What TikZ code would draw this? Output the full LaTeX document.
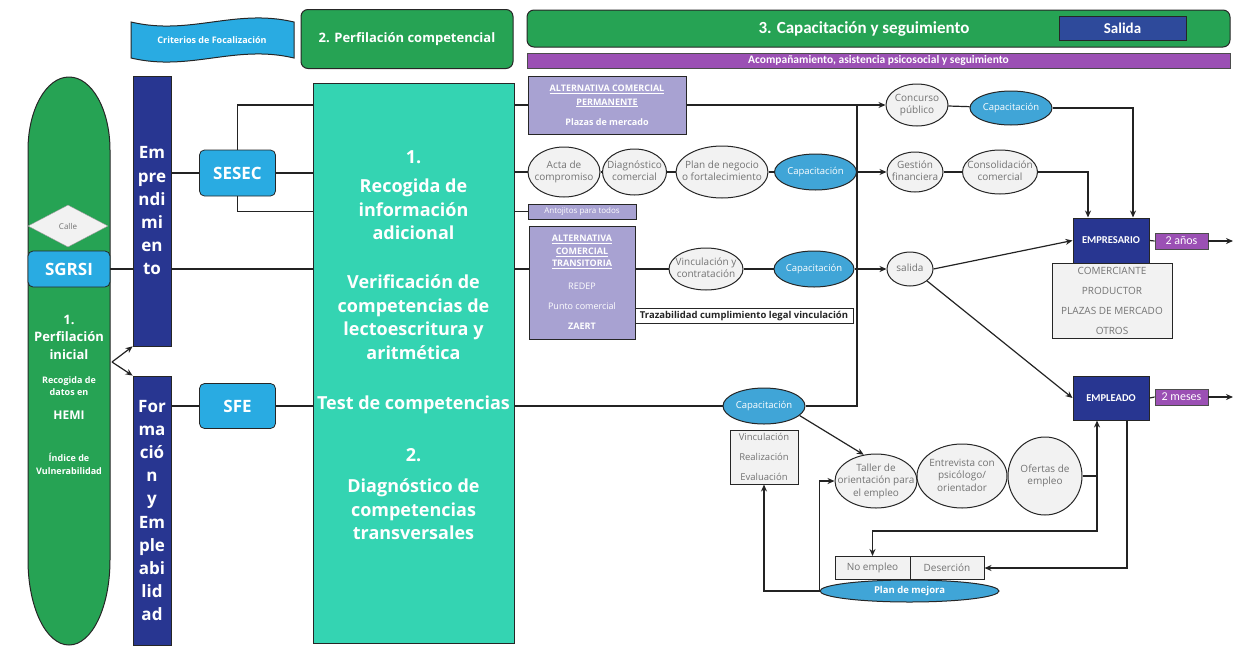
\documentclass[tikz,border=0pt]{standalone}
\usepackage{fontspec}
\setmainfont{Open Sans}
\newfontfamily\carl{Carlito}
\usepackage{tikz}
\usetikzlibrary{shapes, arrows.meta, calc}
\definecolor{verde}{RGB}{38,163,84}
\definecolor{turquesa}{RGB}{52,212,178}
\definecolor{celeste}{RGB}{41,171,226}
\definecolor{marino}{RGB}{40,54,145}
\definecolor{azulsal}{RGB}{46,74,155}
\definecolor{lavanda}{RGB}{168,162,210}
\definecolor{morado}{RGB}{155,80,180}
\definecolor{azulcap}{RGB}{64,165,215}
\definecolor{grisfondo}{RGB}{242,242,242}
\definecolor{gristexto}{RGB}{115,115,115}
\definecolor{trazo}{RGB}{35,35,35}
\tikzstyle{conn} = [draw=trazo, line width=1.2pt]
\tikzstyle{arr} = [conn, -{Stealth[length=7pt, width=6pt]}]
\tikzstyle{barra} = [rectangle, draw=black!85, line width=0.8pt, fill=marino, text=white, font=\bfseries\fontsize{17}{23.2}\selectfont, align=center, inner sep=0pt, minimum width=38pt]
\tikzstyle{servicio} = [rectangle, rounded corners=5pt, draw=black!85, line width=0.8pt, fill=celeste, text=white, font=\bfseries\fontsize{17}{19}\selectfont, inner sep=0pt]
\tikzstyle{titulo} = [rectangle, rounded corners=7pt, draw=black!85, line width=1pt, fill=verde, text=white, inner sep=0pt]
\tikzstyle{ovalo} = [ellipse, draw=black!85, line width=1pt, fill=grisfondo, text=gristexto, font=\fontsize{10}{12.5}\selectfont, inner sep=0pt]
\tikzstyle{ovalcap} = [ellipse, draw=black!85, line width=1pt, fill=azulcap, text=white, font=\fontsize{9.5}{11}\selectfont, inner sep=0pt, minimum width=82pt, minimum height=36pt]
\tikzstyle{alterna} = [rectangle, draw=black!85, line width=1pt, fill=lavanda, text=white, font=\bfseries\fontsize{9}{12.5}\selectfont, align=center, inner sep=0pt]
\tikzstyle{perfil} = [rectangle, draw=black!85, line width=1pt, fill=marino, text=white, font=\carl\bfseries\fontsize{10.5}{12}\selectfont, inner sep=0pt, minimum width=76pt]
\tikzstyle{plazo} = [rectangle, draw=black!70, line width=0.8pt, fill=morado, text=white, font=\carl\fontsize{12}{13}\selectfont, inner sep=0pt, minimum width=53pt, minimum height=16pt]
\tikzstyle{lista} = [rectangle, draw=black!85, line width=1pt, fill=grisfondo, text=gristexto, font=\fontsize{10}{20}\selectfont, align=center, inner sep=0pt]
\tikzstyle{blanco} = [text=white, align=center, inner sep=0pt]
\newcommand{\elltext}[1]{\makebox[0pt]{\smash{\raisebox{-0.25em}{\begin{tabular}{@{}c@{}}#1\end{tabular}}}}}

\begin{document}
\begin{tikzpicture}[x=1pt, y=-1pt]
\useasboundingbox (0,0) rectangle (1234,651);

\draw[fill=celeste, draw=black!85, line width=1pt] (131,22) .. controls (190,36) and (235,8) .. (294,22) -- (294,58) .. controls (235,44) and (190,72) .. (131,58) -- cycle;
\node (crit) [blanco, font=\bfseries\fontsize{9}{10}\selectfont] at (212,40) {Criterios de Focalización};
\node (perf) [titulo, minimum width=212pt, minimum height=59pt, font=\bfseries\fontsize{13}{15}\selectfont] at (407,39) {2. Perfilación competencial};
\node (seg) [titulo, minimum width=703pt, minimum height=37pt] at (878.5,28.5) {};
\node (segtxt) [blanco, font=\carl\bfseries\fontsize{17}{19}\selectfont] at (864,28.5) {3. Capacitación y seguimiento};
\node (sal) [rectangle, draw=black!85, line width=1pt, fill=azulsal, text=white, font=\carl\bfseries\fontsize{15}{17}\selectfont, minimum width=127pt, minimum height=24pt, inner sep=0pt] at (1122.5,28) {Salida};
\node (acomp) [rectangle, draw=black!70, line width=0.8pt, fill=morado, text=white, font=\carl\bfseries\fontsize{11.5}{12}\selectfont, minimum width=703pt, minimum height=15pt, inner sep=0pt] at (878.5,60.5) {Acompañamiento, asistencia psicosocial y seguimiento};

\draw[fill=verde, draw=black!85, line width=1pt] (28,150) .. controls (28,110) and (46,77) .. (69,77) .. controls (92,77) and (110,110) .. (110,150) -- (110,560) .. controls (110,607) and (92,645) .. (69,645) .. controls (46,645) and (28,607) .. (28,560) -- cycle;
\node (calle) [diamond, draw=black!40, fill=grisfondo, text=gristexto, font=\fontsize{8}{9}\selectfont, minimum width=80pt, minimum height=42pt, inner sep=0pt] at (68,226) {Calle};
\node (sgrsi) [servicio, minimum width=82pt, minimum height=36pt] at (69,269) {SGRSI};
\node (ini) [blanco, font=\bfseries\fontsize{13}{17.5}\selectfont] at (69,337) {1.\\Perfilación\\inicial};
\node (datos) [blanco, font=\bfseries\fontsize{9}{12}\selectfont] at (69,386) {Recogida de\\datos en};
\node (hemi) [blanco, font=\bfseries\fontsize{12}{14}\selectfont] at (69,415) {HEMI};
\node (indice) [blanco, font=\bfseries\fontsize{9}{13}\selectfont] at (69,463.5) {Índice de\\Vulnerabilidad};

\node (emp) [barra, minimum height=270pt] at (152,211) {Em\\pre\\ndi\\mi\\en\\to};
\node (form) [barra, minimum height=269pt] at (152,510.5) {For\\ma\\ció\\n\\y\\Em\\ple\\abi\\lid\\ad};
\coordinate (fk) at (112,362);
\draw[arr] (fk) -- (emp.south west);
\draw[arr] (fk) -- (form.north west);

\node (sesec) [servicio, minimum width=76pt, minimum height=46pt] at (237.5,173) {SESEC};
\node (sfe) [servicio, minimum width=76pt, minimum height=45pt] at (237.5,406) {SFE};

\node (teal) [rectangle, draw=black!85, line width=1pt, fill=turquesa, minimum width=201pt, minimum height=560pt] at (413.5,363) {};
\node (t1) [blanco, font=\bfseries\fontsize{18}{23.5}\selectfont] at (413.5,195) {1.\\[6pt]Recogida de\\información\\adicional};
\node (t2) [blanco, font=\bfseries\fontsize{18}{23.5}\selectfont] at (413.5,317) {Verificación de\\competencias de\\lectoescritura y\\aritmética};
\node (t3) [blanco, font=\bfseries\fontsize{18}{23.5}\selectfont] at (413.5,405) {Test de competencias};
\node (t4) [blanco, font=\bfseries\fontsize{18}{23.5}\selectfont] at (413.5,494) {2.\\[8pt]Diagnóstico de\\competencias\\transversales};

\node (altp) [alterna, font=\bfseries\fontsize{9}{14}\selectfont, minimum width=158pt, minimum height=58pt] at (607,105) {\underline{ALTERNATIVA COMERCIAL}\\\underline{PERMANENTE}\\[6pt]Plazas de mercado};
\node (acta) [ovalo, minimum width=72pt, minimum height=50pt] at (564,172) {\elltext{Acta de\\compromiso}};
\node (diag) [ovalo, minimum width=64pt, minimum height=46pt] at (634.5,172) {\elltext{Diagnóstico\\comercial}};
\node (plan) [ovalo, minimum width=92pt, minimum height=52pt] at (722,172) {\elltext{Plan de negocio\\o fortalecimiento}};
\node (cap2) [ovalcap] at (815.5,172) {Capacitación};
\node (anto) [alterna, font=\fontsize{8}{9}\selectfont, minimum width=108pt, minimum height=15pt] at (582,211.5) {Antojitos para todos};
\node (alttrans) [alterna, minimum width=106pt, minimum height=113pt] at (582,282.5) {\underline{ALTERNATIVA}\\\underline{COMERCIAL}\\\underline{TRANSITORIA}\\[10pt]{\mdseries REDEP}\\[7.5pt]{\mdseries Punto comercial}\\[7.5pt]ZAERT};
\node (vinc) [ovalo, minimum width=74pt, minimum height=42pt] at (706,269) {\elltext{Vinculación y\\contratación}};
\node (cap3) [ovalcap, minimum width=80pt] at (814,269) {Capacitación};
\node (traz) [rectangle, draw=black!85, line width=0.8pt, fill=white, text=black!85, font=\bfseries\fontsize{9.5}{10}\selectfont, minimum width=218pt, minimum height=15pt, inner sep=0pt] at (744,315.5) {Trazabilidad cumplimiento legal vinculación};

\node (concurso) [ovalo, minimum width=62pt, minimum height=42pt] at (917,105) {\elltext{Concurso\\público}};
\node (cap1) [ovalcap, minimum height=34pt] at (1011,108) {Capacitación};
\node (gestion) [ovalo, minimum width=56pt, minimum height=40pt] at (915,172) {\elltext{Gestión\\financiera}};
\node (consol) [ovalo, minimum width=75pt, minimum height=44pt] at (1000,172) {\elltext{Consolidación\\comercial}};
\node (salida) [ovalo, minimum width=46pt, minimum height=34pt] at (910,269) {\elltext{salida}};
\node (empresario) [perfil, minimum height=45pt] at (1111,240.5) {EMPRESARIO};
\node (lista) [lista, minimum width=120pt, minimum height=75pt] at (1112,300.5) {COMERCIANTE\\PRODUCTOR\\PLAZAS DE MERCADO\\OTROS};
\node (anos) [plazo] at (1181.5,241) {2 años};
\node (empleado) [perfil, minimum height=44pt] at (1111,398) {EMPLEADO};
\node (meses) [plazo] at (1181.5,397) {2 meses};
\coordinate (finA) at (1233,241);
\coordinate (finB) at (1233,397);

\node (cap4) [ovalcap] at (764,406) {Capacitación};
\node (vlist) [lista, font=\fontsize{9.5}{20}\selectfont, minimum width=68pt, minimum height=54pt] at (764,457) {Vinculación\\Realización\\Evaluación};
\node (taller) [ovalo, minimum width=82pt, minimum height=54pt] at (876,481) {\elltext{Taller de\\orientación para\\el empleo}};
\node (entrev) [ovalo, minimum width=90pt, minimum height=64pt] at (962,476) {\elltext{Entrevista con\\psicólogo/\\orientador}};
\node (ofertas) [ovalo, minimum width=74pt, minimum height=78pt] at (1045,476) {\elltext{Ofertas de\\empleo}};
\node (noemp) [lista, minimum width=75pt, minimum height=23pt] at (872.5,568) {No empleo};
\node (deser) [lista, minimum width=74pt, minimum height=23pt] at (947,568) {Deserción};
\node (mejora) [ellipse, draw=black!85, line width=1pt, fill=azulcap, text=white, font=\bfseries\fontsize{9.5}{11}\selectfont, minimum width=179pt, minimum height=22pt, inner sep=0pt] at (909.5,591) {Plan de mejora};
\coordinate (jn) at (857,0);
\coordinate (jo) at (1097,531);

\draw[conn] (sgrsi.east) -- (emp.west |- sgrsi.east);
\draw[conn] (emp.east |- sgrsi.east) -- (teal.west |- sgrsi.east);
\draw[conn] (teal.east |- sgrsi.east) -- (alttrans.west |- sgrsi.east);
\draw[conn] (emp.east |- sesec.west) -- (sesec.west);
\draw[conn] (sesec.east) -- (teal.west |- sesec.east);
\draw[conn] (sesec.north) |- (teal.west |- altp.west);
\draw[conn] (sesec.south) |- (teal.west |- anto.west);
\draw[conn] (form.east |- sfe.west) -- (sfe.west);
\draw[conn] (sfe.east) -- (teal.west |- sfe.east);
\draw[conn] (teal.east |- altp.west) -- (altp.west);
\draw[conn] (teal.east |- acta.west) -- (acta.west);
\draw[conn] (teal.east |- anto.west) -- (anto.west);
\draw[conn] (teal.east |- sfe.east) -- (cap4.west);
\draw[conn] (acta) -- (diag) -- (plan) -- (cap2);
\draw[conn] (alttrans.east |- vinc.west) -- (vinc.west);
\draw[conn] (vinc) -- (cap3);
\draw[conn] (cap4.east) -| (jn |- altp.east);
\draw[arr] (altp.east) -- (concurso.west);
\draw[arr] (cap2.east) -- (gestion.west);
\draw[arr] (cap3.east) -- (salida.west);
\draw[conn] (concurso) -- (cap1);
\draw[conn] (gestion) -- (consol);
\draw[arr] (cap1.east) -| ([xshift=22pt]empresario.north);
\draw[arr] (consol.east) -| ([xshift=-23pt]empresario.north);
\draw[arr] (salida.east) -- (empresario.west);
\draw[arr] (salida.-35) -- (empleado.west);
\draw[conn] (empresario.east) -- (anos.west);
\draw[arr] (anos.east) -- (finA);
\draw[conn] (empleado.east) -- (meses.west);
\draw[arr] (meses.east) -- (finB);
\draw[arr] (cap4.-15) -- (taller.115);
\draw[arr] (ofertas.east) -| ([xshift=-14pt]empleado.south);
\draw[arr] (jo |- ofertas.east) -- (jo) -| (noemp.north);
\draw[arr] ([xshift=16pt]empleado.south) |- (deser.east);
\draw[arr] (mejora.west) -| (vlist.south);
\draw[arr] (mejora.west) |- (taller.west);
\end{tikzpicture}
\end{document}
